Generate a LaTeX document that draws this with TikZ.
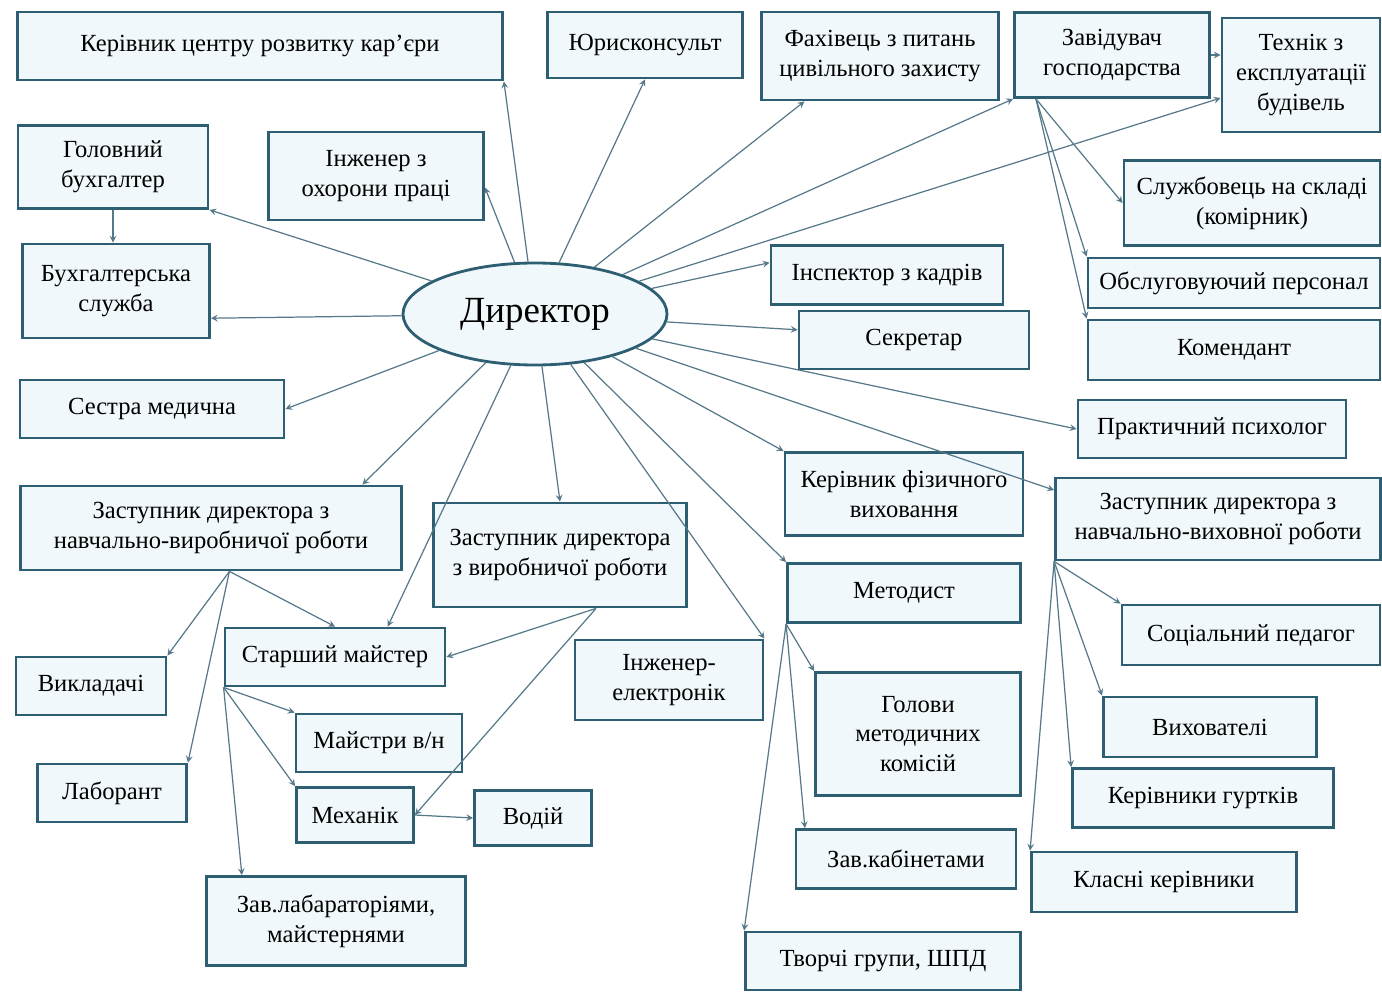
\documentclass[tikz,border=0pt]{standalone}
\usepackage{fontspec}
\setmainfont{Liberation Serif}
\usetikzlibrary{shapes.geometric}
\definecolor{boxline}{HTML}{2E5E72}
\definecolor{boxfill}{HTML}{F1F8FB}
\definecolor{arrline}{HTML}{56798A}

\begin{document}
\begin{tikzpicture}[x=0.02cm, y=-0.02cm, >=stealth,
    box/.style={draw=boxline, fill=boxfill, line width=1.6pt, align=center,
        inner sep=1pt, font=\fontsize{14}{17}\selectfont},
    boxsize/.style 2 args={minimum width=#1*0.02cm, minimum height=#2*0.02cm},
    link/.style={->, draw=arrline, line width=0.7pt}]
    \useasboundingbox (0,0) rectangle (1382,993);

    % director
    \node[ellipse, draw=boxline, fill=boxfill, line width=1.6pt, boxsize={264}{102},
        font=\fontsize{21}{24}\selectfont] (dir) at (535,314) {Директор};

    % top row
    \node[box, boxsize={485}{68}] (kar) at (260,46) {Керівник центру розвитку кар'єри};
    \node[box, boxsize={195}{66}] (yur) at (645,45) {Юрисконсульт};
    \node[box, boxsize={237}{88}] (civ) at (880,56) {Фахівець з питань\\цивільного захисту};
    \node[box, boxsize={195}{85}] (zavg) at (1112,55) {Завідувач\\господарства};
    \node[box, boxsize={158}{114}] (tekh) at (1301,75) {Технік з\\експлуатації\\будівель};

    % left side
    \node[box, boxsize={190}{83}] (golb) at (113,167) {Головний\\бухгалтер};
    \node[box, boxsize={215}{88}] (inzop) at (376,176) {Інженер з\\охорони праці};
    \node[box, boxsize={187}{94}] (bukh) at (116,291) {Бухгалтерська\\служба};
    \node[box, boxsize={264}{58}] (sestra) at (152,409) {Сестра медична};
    \node[box, boxsize={381}{84}] (znvr) at (211,528) {Заступник директора з\\навчально-виробничої роботи};
    \node[box, boxsize={253}{104}] (zvr) at (560,555) {Заступник директора\\з виробничої роботи};
    \node[box, boxsize={220}{58}] (starsh) at (335,657) {Старший майстер};
    \node[box, boxsize={188}{80}] (inzhel) at (669,680) {Інженер-\\електронік};
    \node[box, boxsize={150}{58}] (vykl) at (91,686) {Викладачі};
    \node[box, boxsize={166}{58}] (maistry) at (379,743) {Майстри в/н};
    \node[box, boxsize={149}{58}] (labor) at (112,793) {Лаборант};
    \node[box, boxsize={117}{55}] (mekh) at (355,815) {Механік};
    \node[box, boxsize={117}{55}] (vodii) at (533,818) {Водій};
    \node[box, boxsize={259}{89}] (zavlab) at (336,921) {Зав.лабараторіями,\\майстернями};

    % right side
    \node[box, boxsize={256}{85}] (komir) at (1252,203) {Службовець на складі\\(комірник)};
    \node[box, boxsize={232}{59}] (kadry) at (887,275) {Інспектор з кадрів};
    \node[box, boxsize={292}{50}] (obsl) at (1234,283) {Обслуговуючий персонал};
    \node[box, boxsize={230}{58}] (sekr) at (914,340) {Секретар};
    \node[box, boxsize={292}{60}] (koment) at (1234,350) {Комендант};
    \node[box, boxsize={268}{58}] (psykh) at (1212,429) {Практичний психолог};
    \node[box, boxsize={238}{83}] (fiz) at (904,494) {Керівник фізичного\\виховання};
    \node[box, boxsize={325}{82}] (zvvr) at (1218,519) {Заступник директора з\\навчально-виховної роботи};
    \node[box, boxsize={233}{59}] (metod) at (904,593) {Методист};
    \node[box, boxsize={258}{60}] (socped) at (1251,635) {Соціальний педагог};
    \node[box, boxsize={205}{123}] (golovy) at (918,734) {Голови\\методичних\\комісій};
    \node[box, boxsize={213}{60}] (vykhov) at (1210,727) {Вихователі};
    \node[box, boxsize={261}{59}] (kerhurt) at (1203,798) {Керівники гуртків};
    \node[box, boxsize={220}{59}] (zavkab) at (906,859) {Зав.кабінетами};
    \node[box, boxsize={265}{60}] (klasni) at (1164,882) {Класні керівники};
    \node[box, boxsize={275}{58}] (tvorchi) at (883,961) {Творчі групи, ШПД};

    % from the director
    \draw[link] (dir) -- (kar.south east);
    \draw[link] (dir) -- (yur.south);
    \draw[link] (dir) -- (civ.211);
    \draw[link] (dir) -- (zavg.south west);
    \draw[link] (dir) -- (tekh.196);
    \draw[link] (dir) -- (golb.south east);
    \draw[link] (dir) -- (inzop.-6);
    \draw[link] (dir) -- (bukh.-16);
    \draw[link] (dir) -- (sestra.east);
    \draw[link] (dir) -- (kadry.174);
    \draw[link] (dir) -- (sekr.175);
    \draw[link] (dir) -- (psykh.west);
    \draw[link] (dir) -- (fiz.north west);
    \draw[link] (dir) -- (zvvr.170);
    \draw[link] (dir) -- (znvr.16);
    \draw[link] (dir) -- (zvr.north);
    \draw[link] (dir) -- (starsh.30);
    \draw[link] (dir) -- (inzhel.north east);
    \draw[link] (dir) -- (metod.north west);

    % second level
    \draw[link] (golb.south) -- (golb.south |- bukh.north);
    \draw[link] (zavg.east) -- (zavg.east -| tekh.west);
    \draw[link] (zavg.210) -- (komir.west);
    \draw[link] (zavg.210) -- (obsl.north west);
    \draw[link] (zavg.210) -- (koment.north west);
    \draw[link] (znvr.-67) -- (vykl.north east);
    \draw[link] (znvr.-67) -- (labor.north east);
    \draw[link] (znvr.-67) -- (starsh.north);
    \draw[link] (zvr.-56) -- (starsh.east);
    \draw[link] (zvr.-56) -- (mekh.east);
    \draw[link] (starsh.south west) -- (maistry.north west);
    \draw[link] (starsh.south west) -- (mekh.north west);
    \draw[link] (starsh.south west) -- (zavlab.154);
    \draw[link] (mekh.east) -- (vodii.west);
    \draw[link] (metod.south west) -- (golovy.north west);
    \draw[link] (metod.south west) -- (zavkab.163);
    \draw[link] (metod.south west) -- (tvorchi.north west);
    \draw[link] (zvvr.south west) -- (socped.north west);
    \draw[link] (zvvr.south west) -- (vykhov.north west);
    \draw[link] (zvvr.south west) -- (kerhurt.north west);
    \draw[link] (zvvr.south west) -- (klasni.north west);
\end{tikzpicture}
\end{document}
